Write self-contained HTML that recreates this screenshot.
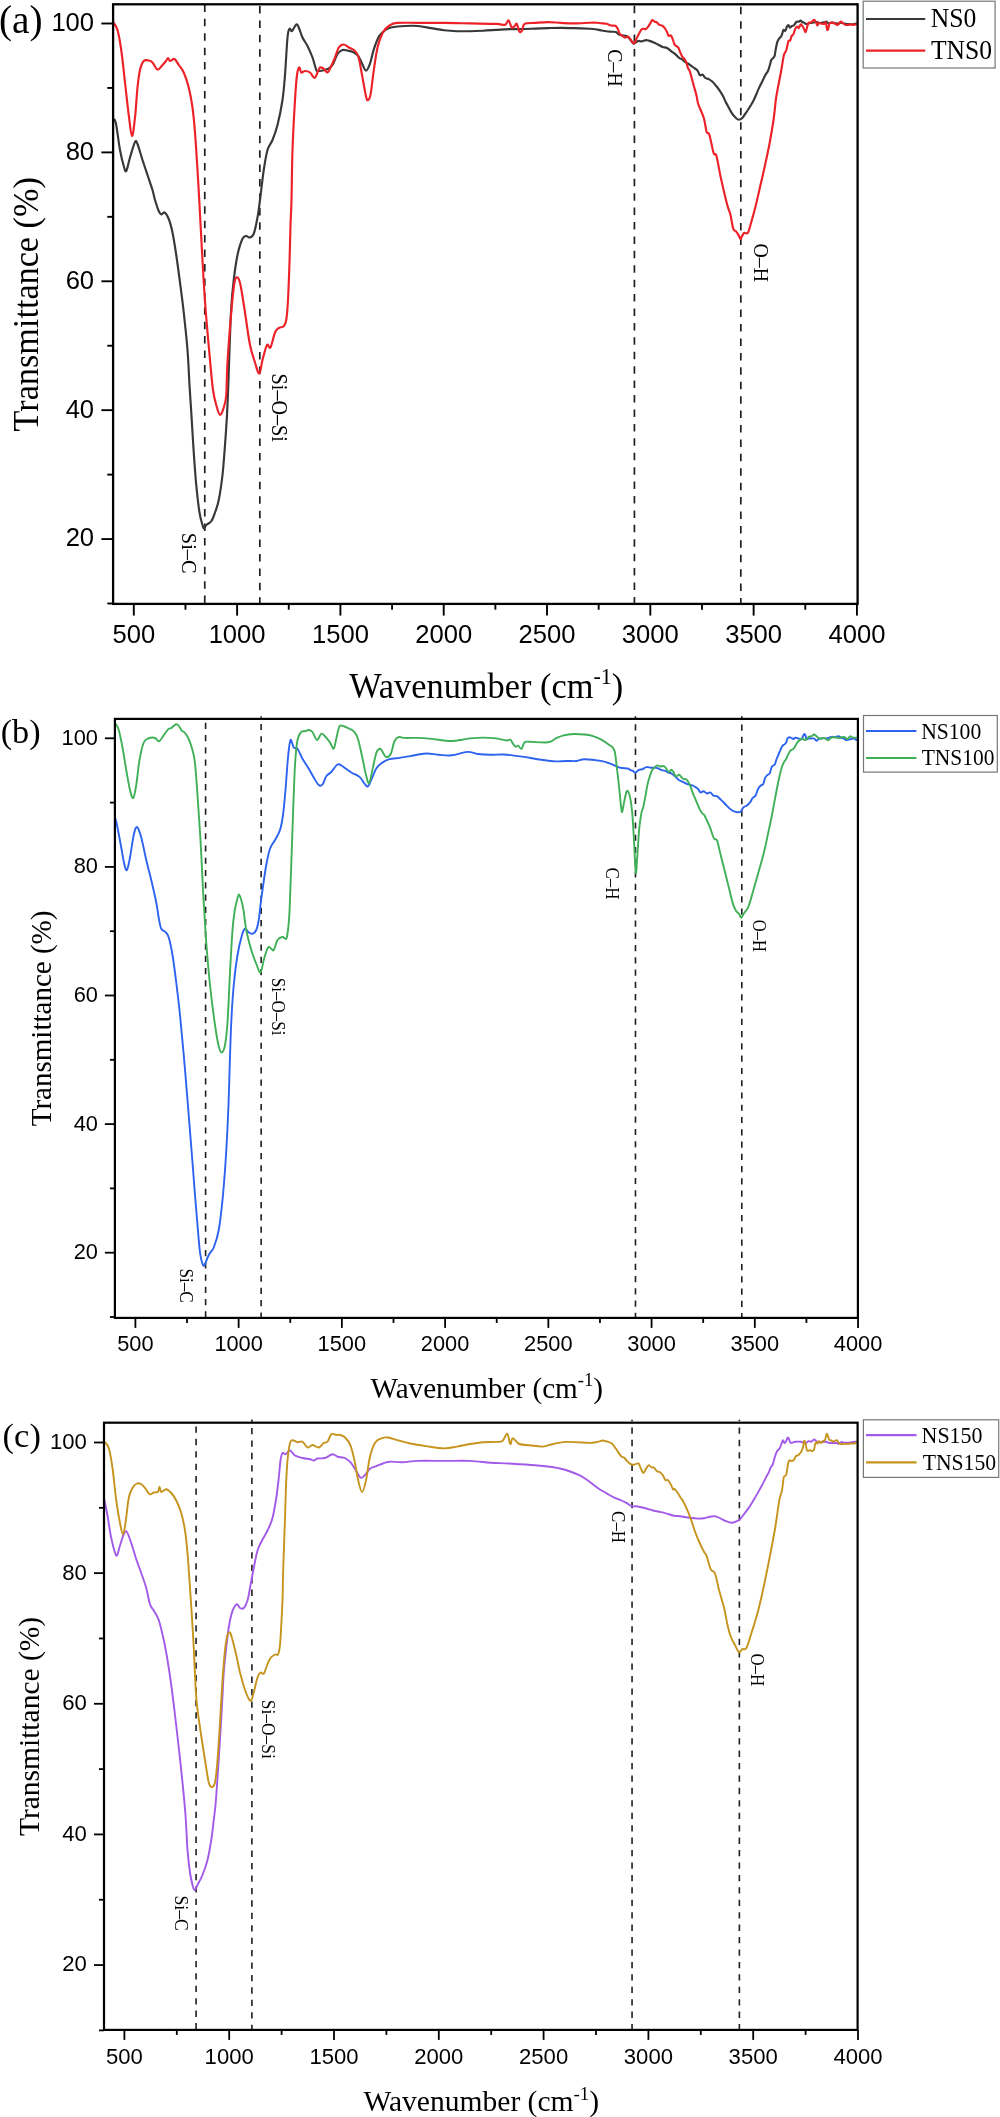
<!DOCTYPE html><html><head><meta charset="utf-8"><title>FTIR spectra</title><style>html,body{margin:0;padding:0;background:#fff;overflow:hidden;}svg{display:block;will-change:transform;filter:blur(0.3px);}</style></head><body>
<svg width="1000" height="2117" viewBox="0 0 1000 2117">
<rect width="1000" height="2117" fill="#fff"/>
<g><line x1="204.77" y1="4.30" x2="204.77" y2="603.90" stroke="#1e1e1e" stroke-width="1.70" stroke-dasharray="7.50 6.92" stroke-dashoffset="14.32"/><line x1="259.83" y1="4.30" x2="259.83" y2="603.90" stroke="#1e1e1e" stroke-width="1.70" stroke-dasharray="7.50 6.92" stroke-dashoffset="12.72"/><line x1="634.42" y1="4.30" x2="634.42" y2="603.90" stroke="#1e1e1e" stroke-width="1.70" stroke-dasharray="7.50 6.92" stroke-dashoffset="13.02"/><line x1="740.82" y1="4.30" x2="740.82" y2="603.90" stroke="#1e1e1e" stroke-width="1.70" stroke-dasharray="7.50 6.92" stroke-dashoffset="11.92"/><path d="M114.50 119.50C114.79 120.42 115.33 119.92 116.25 125.00C117.17 130.08 118.75 143.17 120.00 150.00C121.25 156.83 122.71 162.50 123.75 166.00C124.79 169.50 125.21 172.42 126.25 171.00C127.29 169.58 128.54 162.33 130.00 157.50C131.46 152.67 133.75 144.25 135.00 142.00C136.25 139.75 136.25 141.00 137.50 144.00C138.75 147.00 140.83 154.83 142.50 160.00C144.17 165.17 145.83 170.00 147.50 175.00C149.17 180.00 151.25 185.83 152.50 190.00C153.75 194.17 153.96 196.50 155.00 200.00C156.04 203.50 157.71 208.58 158.75 211.00C159.79 213.42 160.29 214.25 161.25 214.50C162.21 214.75 163.25 211.75 164.50 212.50C165.75 213.25 167.42 215.67 168.75 219.00C170.08 222.33 171.25 226.50 172.50 232.50C173.75 238.50 175.00 246.67 176.25 255.00C177.50 263.33 178.75 272.92 180.00 282.50C181.25 292.08 182.50 301.25 183.75 312.50C185.00 323.75 186.54 337.92 187.50 350.00C188.46 362.08 188.88 374.67 189.50 385.00C190.12 395.33 190.54 400.75 191.25 412.00C191.96 423.25 192.92 440.33 193.75 452.50C194.58 464.67 195.29 475.00 196.25 485.00C197.21 495.00 198.46 505.83 199.50 512.50C200.54 519.17 201.75 522.29 202.50 525.00C203.25 527.71 203.38 528.75 204.00 528.75C204.62 528.75 205.04 526.25 206.25 525.00C207.46 523.75 209.79 523.33 211.25 521.25C212.71 519.17 213.75 516.04 215.00 512.50C216.25 508.96 217.50 506.25 218.75 500.00C220.00 493.75 221.46 484.17 222.50 475.00C223.54 465.83 224.25 455.00 225.00 445.00C225.75 435.00 226.45 425.00 227.00 415.00C227.55 405.00 227.88 395.83 228.30 385.00C228.72 374.17 229.01 362.92 229.50 350.00C229.99 337.08 230.54 319.17 231.25 307.50C231.96 295.83 232.71 288.75 233.75 280.00C234.79 271.25 236.04 261.88 237.50 255.00C238.96 248.12 241.04 241.92 242.50 238.75C243.96 235.58 245.00 236.21 246.25 236.00C247.50 235.79 248.75 237.88 250.00 237.50C251.25 237.12 252.50 237.08 253.75 233.75C255.00 230.42 256.46 223.12 257.50 217.50C258.54 211.88 258.96 207.92 260.00 200.00C261.04 192.08 262.50 178.33 263.75 170.00C265.00 161.67 266.04 155.00 267.50 150.00C268.96 145.00 270.83 144.17 272.50 140.00C274.17 135.83 275.83 131.67 277.50 125.00C279.17 118.33 281.25 108.33 282.50 100.00C283.75 91.67 284.17 85.42 285.00 75.00C285.83 64.58 286.75 45.21 287.50 37.50C288.25 29.79 288.75 29.83 289.50 28.75C290.25 27.67 290.88 31.71 292.00 31.00C293.12 30.29 295.12 25.08 296.25 24.50C297.38 23.92 297.71 25.33 298.75 27.50C299.79 29.67 301.04 34.42 302.50 37.50C303.96 40.58 305.83 42.67 307.50 46.00C309.17 49.33 311.17 53.92 312.50 57.50C313.83 61.08 314.75 65.25 315.50 67.50C316.25 69.75 315.83 70.50 317.00 71.00C318.17 71.50 320.75 70.83 322.50 70.50C324.25 70.17 325.83 69.92 327.50 69.00C329.17 68.08 330.83 67.50 332.50 65.00C334.17 62.50 335.83 56.50 337.50 54.00C339.17 51.50 340.78 50.55 342.50 50.00C344.22 49.45 346.05 50.37 347.80 50.70C349.55 51.03 351.27 51.12 353.00 52.00C354.73 52.88 356.68 54.05 358.20 56.00C359.72 57.95 360.80 61.25 362.10 63.70C363.40 66.15 364.68 70.70 366.00 70.70C367.32 70.70 368.70 67.25 370.00 63.70C371.30 60.15 372.30 53.95 373.80 49.40C375.30 44.85 377.05 39.65 379.00 36.40C380.95 33.15 383.33 31.42 385.50 29.90C387.67 28.38 388.75 27.95 392.00 27.30C395.25 26.65 400.67 26.22 405.00 26.00C409.33 25.78 413.67 25.65 418.00 26.00C422.33 26.35 426.67 27.40 431.00 28.10C435.33 28.80 439.67 29.68 444.00 30.20C448.33 30.72 452.67 31.03 457.00 31.20C461.33 31.37 465.67 31.28 470.00 31.20C474.33 31.12 478.67 30.92 483.00 30.70C487.33 30.48 491.67 30.17 496.00 29.90C500.33 29.63 504.67 29.23 509.00 29.10C513.33 28.97 517.67 29.18 522.00 29.10C526.33 29.02 530.67 28.77 535.00 28.60C539.33 28.43 543.67 28.23 548.00 28.10C552.33 27.97 556.67 27.80 561.00 27.80C565.33 27.80 569.17 27.93 574.00 28.10C578.83 28.27 586.42 28.60 590.00 28.80C593.58 29.00 593.67 29.03 595.50 29.30C597.33 29.57 599.17 30.07 601.00 30.40C602.83 30.73 604.67 31.08 606.50 31.30C608.33 31.52 610.43 31.57 612.00 31.70C613.57 31.83 614.80 31.67 615.90 32.10C617.00 32.53 617.60 33.75 618.60 34.30C619.60 34.85 620.62 35.13 621.90 35.40C623.18 35.67 625.02 35.35 626.30 35.90C627.58 36.45 628.40 37.42 629.60 38.70C630.80 39.98 632.40 43.05 633.50 43.60C634.60 44.15 635.28 42.45 636.20 42.00C637.12 41.55 638.08 41.00 639.00 40.90C639.92 40.80 640.52 41.53 641.70 41.40C642.88 41.27 644.82 40.18 646.10 40.10C647.38 40.02 648.12 40.50 649.40 40.90C650.68 41.30 652.33 41.87 653.80 42.50C655.27 43.13 656.73 43.97 658.20 44.70C659.67 45.43 661.13 46.35 662.60 46.90C664.07 47.45 665.53 47.27 667.00 48.00C668.47 48.73 669.93 50.20 671.40 51.30C672.87 52.40 674.52 53.50 675.80 54.60C677.08 55.70 678.00 57.07 679.10 57.90C680.20 58.73 681.30 58.87 682.40 59.60C683.50 60.33 684.43 61.43 685.70 62.30C686.97 63.17 688.55 63.83 690.00 64.80C691.45 65.77 693.12 67.10 694.40 68.10C695.68 69.10 696.78 69.62 697.70 70.80C698.62 71.98 699.07 74.55 699.90 75.20C700.73 75.85 701.78 74.23 702.70 74.70C703.62 75.17 704.40 77.27 705.40 78.00C706.40 78.73 707.60 78.55 708.70 79.10C709.80 79.65 710.72 80.12 712.00 81.30C713.28 82.48 715.12 84.65 716.40 86.20C717.68 87.75 718.60 88.95 719.70 90.60C720.80 92.25 722.03 94.28 723.00 96.10C723.97 97.92 724.73 99.95 725.50 101.50C726.27 103.05 726.55 103.47 727.60 105.40C728.65 107.33 730.40 111.00 731.80 113.10C733.20 115.20 734.83 116.90 736.00 118.00C737.17 119.10 737.75 119.70 738.80 119.70C739.85 119.70 740.90 119.45 742.30 118.00C743.70 116.55 745.75 113.17 747.20 111.00C748.65 108.83 749.90 106.83 751.00 105.00C752.10 103.17 752.97 101.67 753.80 100.00C754.63 98.33 755.17 96.93 756.00 95.00C756.83 93.07 757.70 90.78 758.80 88.40C759.90 86.02 761.42 83.08 762.60 80.70C763.78 78.32 764.98 75.75 765.90 74.10C766.82 72.45 767.45 72.27 768.10 70.80C768.75 69.33 769.25 67.13 769.80 65.30C770.35 63.47 770.77 61.08 771.40 59.80C772.03 58.52 773.05 58.33 773.60 57.60C774.15 56.87 774.37 56.67 774.70 55.40C775.03 54.13 775.18 52.17 775.60 50.00C776.02 47.83 776.63 44.27 777.20 42.40C777.77 40.53 778.32 39.85 779.00 38.80C779.68 37.75 780.70 37.15 781.30 36.10C781.90 35.05 782.23 33.55 782.60 32.50C782.97 31.45 783.05 30.10 783.50 29.80C783.95 29.50 784.70 31.30 785.30 30.70C785.90 30.10 786.57 27.10 787.10 26.20C787.63 25.30 788.05 25.07 788.50 25.30C788.95 25.53 789.28 27.45 789.80 27.60C790.32 27.75 790.92 26.58 791.60 26.20C792.28 25.82 793.30 25.75 793.90 25.30C794.50 24.85 794.75 24.10 795.20 23.50C795.65 22.90 796.00 22.00 796.60 21.70C797.20 21.40 798.13 21.88 798.80 21.70C799.47 21.52 800.00 20.52 800.60 20.60C801.20 20.68 801.80 21.87 802.40 22.20C803.00 22.53 803.60 22.30 804.20 22.60C804.80 22.90 805.25 23.85 806.00 24.00C806.75 24.15 807.65 23.73 808.70 23.50C809.75 23.27 811.25 22.82 812.30 22.60C813.35 22.38 814.10 22.27 815.00 22.20C815.90 22.13 816.80 22.05 817.70 22.20C818.60 22.35 819.35 23.10 820.40 23.10C821.45 23.10 822.95 22.43 824.00 22.20C825.05 21.97 825.95 21.48 826.70 21.70C827.45 21.92 827.60 23.35 828.50 23.50C829.40 23.65 831.05 22.67 832.10 22.60C833.15 22.53 833.75 22.95 834.80 23.10C835.85 23.25 837.35 23.58 838.40 23.50C839.45 23.42 840.20 22.60 841.10 22.60C842.00 22.60 842.90 23.27 843.80 23.50C844.70 23.73 845.60 23.92 846.50 24.00C847.40 24.08 848.30 23.93 849.20 24.00C850.10 24.07 851.00 24.40 851.90 24.40C852.80 24.40 853.85 24.15 854.60 24.00C855.35 23.85 856.10 23.58 856.40 23.50" fill="none" stroke="#383838" stroke-width="2.15" stroke-linejoin="round" stroke-linecap="round"/><path d="M113.75 23.00C114.38 24.17 116.25 25.50 117.50 30.00C118.75 34.50 120.00 41.25 121.25 50.00C122.50 58.75 123.75 71.67 125.00 82.50C126.25 93.33 127.58 106.08 128.75 115.00C129.92 123.92 130.96 135.58 132.00 136.00C133.04 136.42 134.08 125.58 135.00 117.50C135.92 109.42 136.67 95.42 137.50 87.50C138.33 79.58 138.96 74.42 140.00 70.00C141.04 65.58 142.29 62.58 143.75 61.00C145.21 59.42 147.29 60.25 148.75 60.50C150.21 60.75 151.04 61.00 152.50 62.50C153.96 64.00 155.83 69.08 157.50 69.50C159.17 69.92 161.08 66.42 162.50 65.00C163.92 63.58 165.08 62.17 166.00 61.00C166.92 59.83 167.33 58.00 168.00 58.00C168.67 58.00 168.92 60.83 170.00 61.00C171.08 61.17 173.04 58.33 174.50 59.00C175.96 59.67 177.21 62.75 178.75 65.00C180.29 67.25 182.08 68.75 183.75 72.50C185.42 76.25 187.29 81.67 188.75 87.50C190.21 93.33 191.46 100.00 192.50 107.50C193.54 115.00 194.17 122.08 195.00 132.50C195.83 142.92 196.79 158.75 197.50 170.00C198.21 181.25 198.62 188.75 199.25 200.00C199.88 211.25 200.50 223.75 201.25 237.50C202.00 251.25 202.92 269.17 203.75 282.50C204.58 295.83 205.21 304.58 206.25 317.50C207.29 330.42 208.88 347.92 210.00 360.00C211.12 372.08 211.96 382.50 213.00 390.00C214.04 397.50 215.08 400.83 216.25 405.00C217.42 409.17 218.75 414.58 220.00 415.00C221.25 415.42 222.71 410.83 223.75 407.50C224.79 404.17 225.62 402.50 226.25 395.00C226.88 387.50 226.67 376.25 227.50 362.50C228.33 348.75 230.08 325.83 231.25 312.50C232.42 299.17 233.46 288.33 234.50 282.50C235.54 276.67 236.50 277.08 237.50 277.50C238.50 277.92 239.25 279.17 240.50 285.00C241.75 290.83 243.42 302.50 245.00 312.50C246.58 322.50 248.33 336.67 250.00 345.00C251.67 353.33 253.46 357.71 255.00 362.50C256.54 367.29 258.00 374.17 259.25 373.75C260.50 373.33 261.21 364.79 262.50 360.00C263.79 355.21 265.67 347.08 267.00 345.00C268.33 342.92 269.17 349.58 270.50 347.50C271.83 345.42 273.62 335.75 275.00 332.50C276.38 329.25 277.29 329.04 278.75 328.00C280.21 326.96 282.50 327.58 283.75 326.25C285.00 324.92 285.54 324.38 286.25 320.00C286.96 315.62 287.46 309.58 288.00 300.00C288.54 290.42 289.08 275.00 289.50 262.50C289.92 250.00 290.17 235.42 290.50 225.00C290.83 214.58 291.17 212.50 291.50 200.00C291.83 187.50 291.92 166.67 292.50 150.00C293.08 133.33 294.25 112.50 295.00 100.00C295.75 87.50 296.29 80.42 297.00 75.00C297.71 69.58 298.54 67.92 299.25 67.50C299.96 67.08 300.29 71.92 301.25 72.50C302.21 73.08 303.54 71.00 305.00 71.00C306.46 71.00 308.42 71.33 310.00 72.50C311.58 73.67 313.25 78.00 314.50 78.00C315.75 78.00 316.58 74.25 317.50 72.50C318.42 70.75 318.96 68.12 320.00 67.50C321.04 66.88 322.50 67.92 323.75 68.75C325.00 69.58 326.25 72.96 327.50 72.50C328.75 72.04 330.00 68.50 331.25 66.00C332.50 63.50 333.75 60.58 335.00 57.50C336.25 54.42 337.29 49.67 338.75 47.50C340.21 45.33 342.08 44.50 343.75 44.50C345.42 44.50 347.08 46.58 348.75 47.50C350.42 48.42 352.18 48.58 353.75 50.00C355.32 51.42 356.81 51.77 358.20 56.00C359.59 60.23 360.80 68.70 362.10 75.40C363.40 82.10 365.00 92.08 366.00 96.20C367.00 100.32 367.32 100.53 368.10 100.10C368.88 99.67 369.75 98.58 370.70 93.60C371.65 88.62 372.63 78.00 373.80 70.20C374.97 62.40 376.18 53.08 377.70 46.80C379.22 40.52 380.95 36.05 382.90 32.50C384.85 28.95 387.02 27.10 389.40 25.50C391.78 23.90 392.43 23.33 397.20 22.90C401.97 22.47 410.20 22.90 418.00 22.90C425.80 22.90 435.33 22.82 444.00 22.90C452.67 22.98 461.33 23.23 470.00 23.40C478.67 23.57 490.15 23.68 496.00 23.90C501.85 24.12 503.02 25.30 505.10 24.70C507.18 24.10 507.42 19.87 508.50 20.30C509.58 20.73 510.57 26.35 511.60 27.30C512.63 28.25 513.83 26.57 514.70 26.00C515.57 25.43 516.02 22.95 516.80 23.90C517.58 24.85 518.53 30.57 519.40 31.70C520.27 32.83 521.13 32.00 522.00 30.70C522.87 29.40 522.43 25.20 524.60 23.90C526.77 22.60 531.10 23.20 535.00 22.90C538.90 22.60 543.67 22.10 548.00 22.10C552.33 22.10 556.67 22.68 561.00 22.90C565.33 23.12 569.17 23.43 574.00 23.40C578.83 23.37 586.23 22.82 590.00 22.70C593.77 22.58 594.77 22.60 596.60 22.70C598.43 22.80 599.35 23.12 601.00 23.30C602.65 23.48 604.85 23.43 606.50 23.80C608.15 24.17 609.43 25.17 610.90 25.50C612.37 25.83 614.20 25.35 615.30 25.80C616.40 26.25 616.77 26.88 617.50 28.20C618.23 29.52 618.97 32.50 619.70 33.70C620.43 34.90 620.98 34.75 621.90 35.40C622.82 36.05 624.18 37.42 625.20 37.60C626.22 37.78 627.08 36.13 628.00 36.50C628.92 36.87 629.70 38.65 630.70 39.80C631.70 40.95 633.08 43.50 634.00 43.40C634.92 43.30 635.37 40.82 636.20 39.20C637.03 37.58 638.08 35.35 639.00 33.70C639.92 32.05 640.78 30.12 641.70 29.30C642.62 28.48 643.85 28.80 644.50 28.80C645.15 28.80 645.05 29.58 645.60 29.30C646.15 29.02 647.07 28.02 647.80 27.10C648.53 26.18 649.27 24.98 650.00 23.80C650.73 22.62 651.47 20.37 652.20 20.00C652.93 19.63 653.67 21.23 654.40 21.60C655.13 21.97 655.78 21.65 656.60 22.20C657.42 22.75 658.38 24.35 659.30 24.90C660.22 25.45 661.18 24.95 662.10 25.50C663.02 26.05 663.98 27.10 664.80 28.20C665.62 29.30 666.35 30.82 667.00 32.10C667.65 33.38 668.05 35.35 668.70 35.90C669.35 36.45 670.27 34.93 670.90 35.40C671.53 35.87 671.87 37.15 672.50 38.70C673.13 40.25 673.97 43.42 674.70 44.70C675.43 45.98 676.25 45.85 676.90 46.40C677.55 46.95 678.05 47.00 678.60 48.00C679.15 49.00 679.57 50.93 680.20 52.40C680.83 53.87 681.67 55.70 682.40 56.80C683.13 57.90 683.95 58.08 684.60 59.00C685.25 59.92 685.75 60.83 686.30 62.30C686.85 63.77 687.28 66.20 687.90 67.80C688.52 69.40 689.10 69.20 690.00 71.90C690.90 74.60 692.20 79.97 693.30 84.00C694.40 88.03 695.78 92.77 696.60 96.10C697.42 99.43 697.00 100.35 698.20 104.00C699.40 107.65 702.40 113.33 703.80 118.00C705.20 122.67 705.67 129.20 706.60 132.00C707.53 134.80 708.23 131.30 709.40 134.80C710.57 138.30 712.43 149.50 713.60 153.00C714.77 156.50 715.23 151.83 716.40 155.80C717.57 159.77 719.20 170.27 720.60 176.80C722.00 183.33 723.63 190.10 724.80 195.00C725.97 199.90 726.67 202.93 727.60 206.20C728.53 209.47 729.47 210.87 730.40 214.60C731.33 218.33 732.27 225.80 733.20 228.60C734.13 231.40 735.07 230.23 736.00 231.40C736.93 232.57 738.05 234.32 738.80 235.60C739.55 236.88 739.92 239.10 740.50 239.10C741.08 239.10 741.65 236.65 742.30 235.60C742.95 234.55 743.47 233.27 744.40 232.80C745.33 232.33 746.73 234.67 747.90 232.80C749.07 230.93 750.12 226.03 751.40 221.60C752.68 217.17 754.20 211.80 755.60 206.20C757.00 200.60 758.40 194.07 759.80 188.00C761.20 181.93 762.37 177.27 764.00 169.80C765.63 162.33 767.97 151.83 769.60 143.20C771.23 134.57 772.77 125.20 773.80 118.00C774.83 110.80 775.10 105.12 775.80 100.00C776.50 94.88 777.17 91.80 778.00 87.30C778.83 82.80 779.97 77.58 780.80 73.00C781.63 68.42 782.45 62.92 783.00 59.80C783.55 56.68 783.57 55.85 784.10 54.30C784.63 52.75 785.63 52.05 786.20 50.50C786.77 48.95 787.12 46.58 787.50 45.00C787.88 43.42 788.05 41.78 788.50 41.00C788.95 40.22 789.68 41.12 790.20 40.30C790.72 39.48 791.07 37.10 791.60 36.10C792.13 35.10 792.80 35.50 793.40 34.30C794.00 33.10 794.60 30.17 795.20 28.90C795.80 27.63 796.40 26.85 797.00 26.70C797.60 26.55 798.20 28.38 798.80 28.00C799.40 27.62 800.00 24.70 800.60 24.40C801.20 24.10 801.80 25.37 802.40 26.20C803.00 27.03 803.67 28.42 804.20 29.40C804.73 30.38 805.15 32.33 805.60 32.10C806.05 31.87 806.45 29.50 806.90 28.00C807.35 26.50 807.70 24.00 808.30 23.10C808.90 22.20 809.83 22.90 810.50 22.60C811.17 22.30 811.70 21.75 812.30 21.30C812.90 20.85 813.57 19.90 814.10 19.90C814.63 19.90 814.97 20.40 815.50 21.30C816.03 22.20 816.72 25.00 817.30 25.30C817.88 25.60 818.33 23.40 819.00 23.10C819.67 22.80 820.47 23.35 821.30 23.50C822.13 23.65 823.25 24.15 824.00 24.00C824.75 23.85 825.27 21.63 825.80 22.60C826.33 23.57 826.75 28.90 827.20 29.80C827.65 30.70 828.13 29.05 828.50 28.00C828.87 26.95 828.80 24.40 829.40 23.50C830.00 22.60 831.20 22.60 832.10 22.60C833.00 22.60 833.90 23.12 834.80 23.50C835.70 23.88 836.52 25.20 837.50 24.90C838.48 24.60 839.80 22.00 840.70 21.70C841.60 21.40 842.08 22.57 842.90 23.10C843.72 23.63 844.70 24.60 845.60 24.90C846.50 25.20 847.40 24.98 848.30 24.90C849.20 24.82 850.10 24.40 851.00 24.40C851.90 24.40 852.80 24.97 853.70 24.90C854.60 24.83 855.95 24.15 856.40 24.00" fill="none" stroke="#ec2228" stroke-width="2.15" stroke-linejoin="round" stroke-linecap="round"/><rect x="113.10" y="4.30" width="744.50" height="599.60" fill="none" stroke="#000" stroke-width="2.30"/><line x1="107.30" y1="603.50" x2="113.10" y2="603.50" stroke="#000" stroke-width="1.90"/><line x1="101.40" y1="539.06" x2="113.10" y2="539.06" stroke="#000" stroke-width="1.90"/><text x="94.10" y="546.44" font-family='"Liberation Sans", sans-serif' font-size="25.60" text-anchor="end" fill="#000">20</text><line x1="107.30" y1="474.61" x2="113.10" y2="474.61" stroke="#000" stroke-width="1.90"/><line x1="101.40" y1="410.17" x2="113.10" y2="410.17" stroke="#000" stroke-width="1.90"/><text x="94.10" y="417.55" font-family='"Liberation Sans", sans-serif' font-size="25.60" text-anchor="end" fill="#000">40</text><line x1="107.30" y1="345.72" x2="113.10" y2="345.72" stroke="#000" stroke-width="1.90"/><line x1="101.40" y1="281.28" x2="113.10" y2="281.28" stroke="#000" stroke-width="1.90"/><text x="94.10" y="288.66" font-family='"Liberation Sans", sans-serif' font-size="25.60" text-anchor="end" fill="#000">60</text><line x1="107.30" y1="216.83" x2="113.10" y2="216.83" stroke="#000" stroke-width="1.90"/><line x1="101.40" y1="152.39" x2="113.10" y2="152.39" stroke="#000" stroke-width="1.90"/><text x="94.10" y="159.77" font-family='"Liberation Sans", sans-serif' font-size="25.60" text-anchor="end" fill="#000">80</text><line x1="107.30" y1="87.94" x2="113.10" y2="87.94" stroke="#000" stroke-width="1.90"/><line x1="101.40" y1="23.50" x2="113.10" y2="23.50" stroke="#000" stroke-width="1.90"/><text x="94.10" y="30.88" font-family='"Liberation Sans", sans-serif' font-size="25.60" text-anchor="end" fill="#000">100</text><line x1="133.80" y1="603.90" x2="133.80" y2="615.60" stroke="#000" stroke-width="1.90"/><text x="133.80" y="643.40" font-family='"Liberation Sans", sans-serif' font-size="25.60" text-anchor="middle" fill="#000">500</text><line x1="185.45" y1="603.90" x2="185.45" y2="609.70" stroke="#000" stroke-width="1.90"/><line x1="237.11" y1="603.90" x2="237.11" y2="615.60" stroke="#000" stroke-width="1.90"/><text x="237.11" y="643.40" font-family='"Liberation Sans", sans-serif' font-size="25.60" text-anchor="middle" fill="#000">1000</text><line x1="288.76" y1="603.90" x2="288.76" y2="609.70" stroke="#000" stroke-width="1.90"/><line x1="340.41" y1="603.90" x2="340.41" y2="615.60" stroke="#000" stroke-width="1.90"/><text x="340.41" y="643.40" font-family='"Liberation Sans", sans-serif' font-size="25.60" text-anchor="middle" fill="#000">1500</text><line x1="392.06" y1="603.90" x2="392.06" y2="609.70" stroke="#000" stroke-width="1.90"/><line x1="443.71" y1="603.90" x2="443.71" y2="615.60" stroke="#000" stroke-width="1.90"/><text x="443.71" y="643.40" font-family='"Liberation Sans", sans-serif' font-size="25.60" text-anchor="middle" fill="#000">2000</text><line x1="495.37" y1="603.90" x2="495.37" y2="609.70" stroke="#000" stroke-width="1.90"/><line x1="547.02" y1="603.90" x2="547.02" y2="615.60" stroke="#000" stroke-width="1.90"/><text x="547.02" y="643.40" font-family='"Liberation Sans", sans-serif' font-size="25.60" text-anchor="middle" fill="#000">2500</text><line x1="598.67" y1="603.90" x2="598.67" y2="609.70" stroke="#000" stroke-width="1.90"/><line x1="650.33" y1="603.90" x2="650.33" y2="615.60" stroke="#000" stroke-width="1.90"/><text x="650.33" y="643.40" font-family='"Liberation Sans", sans-serif' font-size="25.60" text-anchor="middle" fill="#000">3000</text><line x1="701.98" y1="603.90" x2="701.98" y2="609.70" stroke="#000" stroke-width="1.90"/><line x1="753.63" y1="603.90" x2="753.63" y2="615.60" stroke="#000" stroke-width="1.90"/><text x="753.63" y="643.40" font-family='"Liberation Sans", sans-serif' font-size="25.60" text-anchor="middle" fill="#000">3500</text><line x1="805.28" y1="603.90" x2="805.28" y2="609.70" stroke="#000" stroke-width="1.90"/><line x1="856.93" y1="603.90" x2="856.93" y2="615.60" stroke="#000" stroke-width="1.90"/><text x="856.93" y="643.40" font-family='"Liberation Sans", sans-serif' font-size="25.60" text-anchor="middle" fill="#000">4000</text><text transform="matrix(0.34351 0.00000 0.00000 0.35224 349.200 697.896)" font-family='"Liberation Serif", serif' font-size="100" fill="#000">Wavenumber (cm<tspan font-size="64" dy="-39">-1</tspan><tspan dy="39">)</tspan></text><text transform="matrix(0.00000 -0.34227 0.35385 0.00000 38.000 431.435)" font-family='"Liberation Serif", serif' font-size="100" fill="#000">Transmittance (%)</text><text transform="matrix(0.00000 0.20346 -0.21642 0.00000 181.683 532.826)" font-family='"Liberation Serif", serif' font-size="100" fill="#000">Si–C</text><text transform="matrix(0.00000 0.20152 -0.22239 0.00000 272.445 373.589)" font-family='"Liberation Serif", serif' font-size="100" fill="#000">Si–O–Si</text><text transform="matrix(0.00000 0.19835 -0.21045 0.00000 608.421 49.307)" font-family='"Liberation Serif", serif' font-size="100" fill="#000">C–H</text><text transform="matrix(0.00000 0.19840 -0.21194 0.00000 754.124 243.406)" font-family='"Liberation Serif", serif' font-size="100" fill="#000">O–H</text><rect x="863.20" y="1.20" width="131.90" height="66.80" fill="#fff" stroke="#777" stroke-width="1.2"/><line x1="866.00" y1="19.00" x2="925.20" y2="19.00" stroke="#383838" stroke-width="2.2"/><text transform="matrix(0.25643 0.00000 0.00000 0.26866 930.631 27.363)" font-family='"Liberation Serif", serif' font-size="100" fill="#000">NS0</text><line x1="866.00" y1="50.70" x2="925.20" y2="50.70" stroke="#ec2228" stroke-width="2.2"/><text transform="matrix(0.25579 0.00000 0.00000 0.26343 930.888 59.223)" font-family='"Liberation Serif", serif' font-size="100" fill="#000">TNS0</text><text transform="matrix(0.39320 0.00000 0.00000 0.39444 -1.073 32.717)" font-family='"Liberation Serif", serif' font-size="100" fill="#000">(a)</text></g>
<g><line x1="205.60" y1="718.90" x2="205.60" y2="1317.90" stroke="#1e1e1e" stroke-width="1.60" stroke-dasharray="6.20 6.06" stroke-dashoffset="8.36"/><line x1="261.14" y1="716.20" x2="261.14" y2="1317.90" stroke="#1e1e1e" stroke-width="1.60" stroke-dasharray="6.20 6.06" stroke-dashoffset="4.56"/><line x1="635.47" y1="716.20" x2="635.47" y2="1317.90" stroke="#1e1e1e" stroke-width="1.60" stroke-dasharray="6.20 6.06" stroke-dashoffset="4.16"/><line x1="741.80" y1="716.20" x2="741.80" y2="1317.90" stroke="#1e1e1e" stroke-width="1.60" stroke-dasharray="6.20 6.06" stroke-dashoffset="3.86"/><path d="M115.50 818.75C115.83 820.21 116.54 822.71 117.50 827.50C118.46 832.29 120.08 841.25 121.25 847.50C122.42 853.75 123.54 861.25 124.50 865.00C125.46 868.75 126.08 871.25 127.00 870.00C127.92 868.75 128.88 863.33 130.00 857.50C131.12 851.67 132.58 840.08 133.75 835.00C134.92 829.92 135.75 826.58 137.00 827.00C138.25 827.42 139.71 832.00 141.25 837.50C142.79 843.00 144.58 852.92 146.25 860.00C147.92 867.08 149.58 872.92 151.25 880.00C152.92 887.08 155.00 896.17 156.25 902.50C157.50 908.83 157.92 913.62 158.75 918.00C159.58 922.38 160.12 926.42 161.25 928.75C162.38 931.08 164.25 930.54 165.50 932.00C166.75 933.46 167.58 933.67 168.75 937.50C169.92 941.33 171.25 947.50 172.50 955.00C173.75 962.50 175.00 972.50 176.25 982.50C177.50 992.50 178.75 1002.92 180.00 1015.00C181.25 1027.08 182.50 1040.83 183.75 1055.00C185.00 1069.17 186.54 1088.33 187.50 1100.00C188.46 1111.67 188.67 1114.58 189.50 1125.00C190.33 1135.42 191.58 1150.83 192.50 1162.50C193.42 1174.17 194.17 1184.58 195.00 1195.00C195.83 1205.42 196.67 1215.42 197.50 1225.00C198.33 1234.58 199.17 1246.04 200.00 1252.50C200.83 1258.96 201.75 1261.67 202.50 1263.75C203.25 1265.83 203.46 1266.46 204.50 1265.00C205.54 1263.54 207.21 1257.92 208.75 1255.00C210.29 1252.08 212.08 1251.67 213.75 1247.50C215.42 1243.33 217.29 1237.92 218.75 1230.00C220.21 1222.08 221.46 1210.00 222.50 1200.00C223.54 1190.00 224.25 1180.42 225.00 1170.00C225.75 1159.58 226.42 1148.33 227.00 1137.50C227.58 1126.67 228.08 1115.83 228.50 1105.00C228.92 1094.17 229.04 1086.25 229.50 1072.50C229.96 1058.75 230.54 1037.08 231.25 1022.50C231.96 1007.92 232.71 996.25 233.75 985.00C234.79 973.75 236.12 963.33 237.50 955.00C238.88 946.67 240.75 939.38 242.00 935.00C243.25 930.62 243.88 929.17 245.00 928.75C246.12 928.33 247.50 931.67 248.75 932.50C250.00 933.33 251.25 934.17 252.50 933.75C253.75 933.33 255.21 932.29 256.25 930.00C257.29 927.71 258.04 924.17 258.75 920.00C259.46 915.83 259.88 910.00 260.50 905.00C261.12 900.00 261.54 896.67 262.50 890.00C263.46 883.33 265.00 871.88 266.25 865.00C267.50 858.12 268.54 852.92 270.00 848.75C271.46 844.58 273.33 843.12 275.00 840.00C276.67 836.88 278.67 834.17 280.00 830.00C281.33 825.83 282.08 821.67 283.00 815.00C283.92 808.33 284.67 799.58 285.50 790.00C286.33 780.42 287.17 765.83 288.00 757.50C288.83 749.17 289.54 741.67 290.50 740.00C291.46 738.33 292.58 746.04 293.75 747.50C294.92 748.96 296.04 746.88 297.50 748.75C298.96 750.62 300.62 755.42 302.50 758.75C304.38 762.08 306.88 765.62 308.75 768.75C310.62 771.88 312.08 774.79 313.75 777.50C315.42 780.21 317.29 783.83 318.75 785.00C320.21 786.17 321.25 785.96 322.50 784.50C323.75 783.04 324.79 778.33 326.25 776.25C327.71 774.17 329.38 773.96 331.25 772.00C333.12 770.04 335.62 765.46 337.50 764.50C339.38 763.54 341.22 765.62 342.50 766.25C343.78 766.88 343.67 767.22 345.20 768.30C346.73 769.38 349.32 771.27 351.70 772.70C354.08 774.13 357.33 775.03 359.50 776.90C361.67 778.77 363.32 782.30 364.70 783.90C366.08 785.50 366.72 787.15 367.80 786.50C368.88 785.85 369.77 783.03 371.20 780.00C372.63 776.97 374.67 771.12 376.40 768.30C378.13 765.48 379.43 764.62 381.60 763.10C383.77 761.58 386.37 760.07 389.40 759.20C392.43 758.33 396.33 758.42 399.80 757.90C403.27 757.38 405.87 756.83 410.20 756.10C414.53 755.37 421.03 753.72 425.80 753.50C430.57 753.28 434.47 754.50 438.80 754.80C443.13 755.10 447.03 755.78 451.80 755.30C456.57 754.82 463.07 752.12 467.40 751.90C471.73 751.68 473.90 753.52 477.80 754.00C481.70 754.48 486.47 754.72 490.80 754.80C495.13 754.88 498.60 754.20 503.80 754.50C509.00 754.80 516.37 755.82 522.00 756.60C527.63 757.38 532.40 758.42 537.60 759.20C542.80 759.98 548.43 761.00 553.20 761.30C557.97 761.60 562.30 761.05 566.20 761.00C570.10 760.95 573.57 761.30 576.60 761.00C579.63 760.70 580.37 759.22 584.40 759.20C588.43 759.18 596.27 760.08 600.80 760.90C605.33 761.72 608.45 762.98 611.60 764.10C614.75 765.22 617.00 766.87 619.70 767.60C622.40 768.33 626.08 768.13 627.80 768.50C629.52 768.87 629.17 769.40 630.00 769.80C630.83 770.20 631.88 770.43 632.80 770.90C633.72 771.37 634.50 772.78 635.50 772.60C636.50 772.42 637.70 770.35 638.80 769.80C639.90 769.25 640.82 769.75 642.10 769.30C643.38 768.85 645.03 767.35 646.50 767.10C647.97 766.85 649.62 767.72 650.90 767.80C652.18 767.88 653.10 767.53 654.20 767.60C655.30 767.67 656.40 767.83 657.50 768.20C658.60 768.57 659.52 769.35 660.80 769.80C662.08 770.25 663.92 770.43 665.20 770.90C666.48 771.37 667.40 772.13 668.50 772.60C669.60 773.07 670.70 773.07 671.80 773.70C672.90 774.33 674.00 775.40 675.10 776.40C676.20 777.40 677.12 778.78 678.40 779.70C679.68 780.62 681.33 781.17 682.80 781.90C684.27 782.63 685.73 783.55 687.20 784.10C688.67 784.65 690.13 784.65 691.60 785.20C693.07 785.75 694.90 786.75 696.00 787.40C697.10 788.05 697.47 788.27 698.20 789.10C698.93 789.93 699.48 792.03 700.40 792.40C701.32 792.77 702.60 791.12 703.70 791.30C704.80 791.48 705.90 793.32 707.00 793.50C708.10 793.68 709.20 792.03 710.30 792.40C711.40 792.77 712.50 795.07 713.60 795.70C714.70 796.33 715.62 795.47 716.90 796.20C718.18 796.93 719.83 798.72 721.30 800.10C722.77 801.48 724.23 803.03 725.70 804.50C727.17 805.97 728.82 807.80 730.10 808.90C731.38 810.00 732.12 810.55 733.40 811.10C734.68 811.65 736.60 812.08 737.80 812.20C739.00 812.32 739.83 812.37 740.60 811.80C741.37 811.23 741.80 809.65 742.40 808.80C743.00 807.95 743.50 807.20 744.20 806.70C744.90 806.20 745.60 806.55 746.60 805.80C747.60 805.05 749.20 803.50 750.20 802.20C751.20 800.90 751.70 799.10 752.60 798.00C753.50 796.90 754.70 797.10 755.60 795.60C756.50 794.10 757.20 790.65 758.00 789.00C758.80 787.35 759.55 786.50 760.40 785.70C761.25 784.90 762.30 785.55 763.10 784.20C763.90 782.85 764.45 779.15 765.20 777.60C765.95 776.05 766.85 775.60 767.60 774.90C768.35 774.20 769.00 774.75 769.70 773.40C770.40 772.05 770.95 768.30 771.80 766.80C772.65 765.30 774.00 765.70 774.80 764.40C775.60 763.10 776.00 760.60 776.60 759.00C777.20 757.40 777.85 756.12 778.40 754.80C778.95 753.48 779.27 752.53 779.90 751.10C780.53 749.67 781.45 747.32 782.20 746.20C782.95 745.08 783.73 745.00 784.40 744.40C785.07 743.80 785.68 743.58 786.20 742.60C786.72 741.62 786.97 739.40 787.50 738.50C788.03 737.60 788.72 737.27 789.40 737.20C790.08 737.13 790.93 737.80 791.60 738.10C792.27 738.40 792.80 739.08 793.40 739.00C794.00 738.92 794.60 737.75 795.20 737.60C795.80 737.45 796.40 737.95 797.00 738.10C797.60 738.25 798.20 738.20 798.80 738.50C799.40 738.80 800.00 740.05 800.60 739.90C801.20 739.75 801.80 738.58 802.40 737.60C803.00 736.62 803.67 734.30 804.20 734.00C804.73 733.70 805.22 734.97 805.60 735.80C805.98 736.63 805.98 738.55 806.50 739.00C807.02 739.45 807.88 738.58 808.70 738.50C809.52 738.42 810.50 738.50 811.40 738.50C812.30 738.50 813.27 738.12 814.10 738.50C814.93 738.88 815.65 740.72 816.40 740.80C817.15 740.88 817.78 739.38 818.60 739.00C819.42 738.62 820.40 738.65 821.30 738.50C822.20 738.35 823.10 738.10 824.00 738.10C824.90 738.10 825.80 738.58 826.70 738.50C827.60 738.42 828.50 737.90 829.40 737.60C830.30 737.30 831.20 736.77 832.10 736.70C833.00 736.63 833.75 737.27 834.80 737.20C835.85 737.13 837.35 736.23 838.40 736.30C839.45 736.37 840.20 737.23 841.10 737.60C842.00 737.97 843.05 738.12 843.80 738.50C844.55 738.88 844.85 739.67 845.60 739.90C846.35 740.13 847.40 740.05 848.30 739.90C849.20 739.75 850.10 739.23 851.00 739.00C851.90 738.77 852.80 738.35 853.70 738.50C854.60 738.65 855.95 739.67 856.40 739.90" fill="none" stroke="#2d63ee" stroke-width="1.90" stroke-linejoin="round" stroke-linecap="round"/><path d="M115.50 723.75C116.04 724.79 117.58 726.04 118.75 730.00C119.92 733.96 121.25 740.83 122.50 747.50C123.75 754.17 125.00 762.92 126.25 770.00C127.50 777.08 128.83 785.33 130.00 790.00C131.17 794.67 132.21 798.83 133.25 798.00C134.29 797.17 135.21 791.33 136.25 785.00C137.29 778.67 138.25 767.08 139.50 760.00C140.75 752.92 142.21 746.12 143.75 742.50C145.29 738.88 146.88 739.00 148.75 738.25C150.62 737.50 153.28 737.48 155.00 738.00C156.72 738.52 157.75 741.72 159.10 741.40C160.45 741.08 161.57 738.15 163.10 736.10C164.63 734.05 166.98 730.42 168.30 729.10C169.62 727.78 170.12 728.72 171.00 728.20C171.88 727.68 172.72 726.67 173.60 726.00C174.48 725.33 175.42 724.20 176.30 724.20C177.18 724.20 178.03 724.97 178.90 726.00C179.77 727.03 180.62 729.37 181.50 730.40C182.38 731.43 183.17 731.10 184.20 732.20C185.23 733.30 186.53 734.73 187.70 737.00C188.87 739.27 190.03 741.83 191.20 745.80C192.37 749.77 193.65 752.60 194.70 760.80C195.75 769.00 196.53 781.80 197.50 795.00C198.47 808.20 199.58 824.17 200.50 840.00C201.42 855.83 202.33 877.50 203.00 890.00C203.67 902.50 203.96 906.25 204.50 915.00C205.04 923.75 205.33 930.83 206.25 942.50C207.17 954.17 208.54 971.25 210.00 985.00C211.46 998.75 213.54 1014.79 215.00 1025.00C216.46 1035.21 217.62 1041.67 218.75 1046.25C219.88 1050.83 220.71 1052.71 221.75 1052.50C222.79 1052.29 224.04 1050.00 225.00 1045.00C225.96 1040.00 226.67 1034.58 227.50 1022.50C228.33 1010.42 229.17 987.92 230.00 972.50C230.83 957.08 231.75 940.08 232.50 930.00C233.25 919.92 233.75 917.00 234.50 912.00C235.25 907.00 236.25 902.92 237.00 900.00C237.75 897.08 238.29 894.50 239.00 894.50C239.71 894.50 240.50 897.42 241.25 900.00C242.00 902.58 242.67 905.00 243.50 910.00C244.33 915.00 244.96 923.33 246.25 930.00C247.54 936.67 249.58 944.38 251.25 950.00C252.92 955.62 254.71 960.00 256.25 963.75C257.79 967.50 259.25 973.12 260.50 972.50C261.75 971.88 262.50 964.17 263.75 960.00C265.00 955.83 266.75 949.38 268.00 947.50C269.25 945.62 270.29 948.33 271.25 948.75C272.21 949.17 272.71 951.46 273.75 950.00C274.79 948.54 276.04 942.17 277.50 940.00C278.96 937.83 281.04 937.21 282.50 937.00C283.96 936.79 285.33 939.92 286.25 938.75C287.17 937.58 287.46 934.46 288.00 930.00C288.54 925.54 288.96 922.83 289.50 912.00C290.04 901.17 290.67 881.17 291.25 865.00C291.83 848.83 292.38 831.67 293.00 815.00C293.62 798.33 294.25 777.50 295.00 765.00C295.75 752.50 296.46 745.50 297.50 740.00C298.54 734.50 300.00 733.46 301.25 732.00C302.50 730.54 303.75 731.58 305.00 731.25C306.25 730.92 307.50 729.88 308.75 730.00C310.00 730.12 311.12 730.33 312.50 732.00C313.88 733.67 315.54 739.71 317.00 740.00C318.46 740.29 319.92 734.38 321.25 733.75C322.58 733.12 323.54 734.79 325.00 736.25C326.46 737.71 328.54 740.42 330.00 742.50C331.46 744.58 332.71 749.38 333.75 748.75C334.79 748.12 335.29 742.50 336.25 738.75C337.21 735.00 338.25 728.33 339.50 726.25C340.75 724.17 342.37 725.96 343.75 726.25C345.13 726.54 346.04 727.06 347.80 728.00C349.56 728.94 352.57 729.95 354.30 731.90C356.03 733.85 356.90 735.58 358.20 739.70C359.50 743.82 360.80 750.75 362.10 756.60C363.40 762.45 364.83 770.38 366.00 774.80C367.17 779.22 368.02 783.97 369.10 783.10C370.18 782.23 371.28 774.67 372.50 769.60C373.72 764.53 375.10 756.17 376.40 752.70C377.70 749.23 379.08 748.58 380.30 748.80C381.52 749.02 382.70 752.62 383.70 754.00C384.70 755.38 385.13 757.10 386.30 757.10C387.47 757.10 389.32 756.68 390.70 754.00C392.08 751.32 393.30 743.82 394.60 741.00C395.90 738.18 396.77 737.62 398.50 737.10C400.23 736.58 401.75 737.77 405.00 737.90C408.25 738.03 413.67 737.73 418.00 737.90C422.33 738.07 426.67 738.47 431.00 738.90C435.33 739.33 440.53 740.15 444.00 740.50C447.47 740.85 448.77 741.13 451.80 741.00C454.83 740.87 459.17 740.13 462.20 739.70C465.23 739.27 466.53 738.75 470.00 738.40C473.47 738.05 478.67 737.60 483.00 737.60C487.33 737.60 492.10 737.92 496.00 738.40C499.90 738.88 504.02 740.28 506.40 740.50C508.78 740.72 509.22 739.18 510.30 739.70C511.38 740.22 512.03 742.43 512.90 743.60C513.77 744.77 514.63 746.35 515.50 746.70C516.37 747.05 517.10 745.35 518.10 745.70C519.10 746.05 520.42 749.37 521.50 748.80C522.58 748.23 523.22 743.47 524.60 742.30C525.98 741.13 525.90 741.80 529.80 741.80C533.70 741.80 543.67 742.87 548.00 742.30C552.33 741.73 553.20 739.57 555.80 738.40C558.40 737.23 560.57 736.03 563.60 735.30C566.63 734.57 570.53 734.13 574.00 734.00C577.47 733.87 581.37 734.20 584.40 734.50C587.43 734.80 589.47 735.00 592.20 735.80C594.93 736.60 598.02 737.82 600.80 739.30C603.58 740.78 606.65 742.90 608.90 744.70C611.15 746.50 612.95 746.05 614.30 750.10C615.65 754.15 616.15 762.35 617.00 769.00C617.85 775.65 618.72 783.70 619.40 790.00C620.08 796.30 620.65 803.13 621.10 806.80C621.55 810.47 621.62 812.70 622.10 812.00C622.58 811.30 623.33 805.75 624.00 802.60C624.67 799.45 625.47 795.03 626.10 793.10C626.73 791.17 627.10 790.12 627.80 791.00C628.50 791.88 629.53 794.37 630.30 798.40C631.07 802.43 631.77 807.85 632.40 815.20C633.03 822.55 633.53 832.87 634.10 842.50C634.67 852.13 635.23 871.25 635.80 873.00C636.37 874.75 636.92 860.53 637.50 853.00C638.08 845.47 638.65 834.45 639.30 827.80C639.95 821.15 640.75 816.53 641.40 813.10C642.05 809.67 642.53 810.02 643.20 807.20C643.87 804.38 644.67 800.05 645.40 796.20C646.13 792.35 646.87 787.40 647.60 784.10C648.33 780.80 649.07 778.68 649.80 776.40C650.53 774.12 651.17 771.95 652.00 770.40C652.83 768.85 653.88 767.93 654.80 767.10C655.72 766.27 656.58 765.50 657.50 765.40C658.42 765.30 659.38 766.40 660.30 766.50C661.22 766.60 662.18 765.90 663.00 766.00C663.82 766.10 664.47 766.37 665.20 767.10C665.93 767.83 666.75 769.58 667.40 770.40C668.05 771.22 668.45 772.10 669.10 772.00C669.75 771.90 670.57 769.80 671.30 769.80C672.03 769.80 672.77 770.90 673.50 772.00C674.23 773.10 674.78 775.93 675.70 776.40C676.62 776.87 678.00 774.62 679.00 774.80C680.00 774.98 680.88 776.77 681.70 777.50C682.52 778.23 683.17 778.92 683.90 779.20C684.63 779.48 685.37 778.75 686.10 779.20C686.83 779.65 687.57 780.72 688.30 781.90C689.03 783.08 689.77 784.47 690.50 786.30C691.23 788.13 691.78 790.52 692.70 792.90C693.62 795.28 694.90 798.03 696.00 800.60C697.10 803.17 698.20 806.10 699.30 808.30C700.40 810.50 701.75 812.65 702.60 813.80C703.45 814.95 703.22 813.05 704.40 815.20C705.58 817.35 708.12 822.85 709.70 826.70C711.28 830.55 712.68 836.02 713.90 838.30C715.12 840.58 715.95 837.95 717.00 840.40C718.05 842.85 718.97 848.10 720.20 853.00C721.43 857.90 723.00 864.20 724.40 869.80C725.80 875.40 727.20 881.00 728.60 886.60C730.00 892.20 731.57 899.38 732.80 903.40C734.03 907.42 734.95 908.95 736.00 910.70C737.05 912.45 738.23 912.73 739.10 913.90C739.97 915.07 740.33 917.88 741.20 917.70C742.07 917.52 743.08 914.67 744.30 912.80C745.52 910.93 746.92 910.52 748.50 906.50C750.08 902.48 752.22 894.12 753.80 888.70C755.38 883.28 756.25 880.30 758.00 874.00C759.75 867.70 762.50 858.23 764.30 850.90C766.10 843.57 767.55 835.82 768.80 830.00C770.05 824.18 770.80 821.03 771.80 816.00C772.80 810.97 773.90 804.60 774.80 799.80C775.70 795.00 776.40 791.20 777.20 787.20C778.00 783.20 778.80 779.20 779.60 775.80C780.40 772.40 781.20 769.20 782.00 766.80C782.80 764.40 783.70 762.70 784.40 761.40C785.10 760.10 785.60 760.10 786.20 759.00C786.80 757.90 787.30 756.20 788.00 754.80C788.70 753.40 789.50 751.58 790.40 750.60C791.30 749.62 792.60 749.63 793.40 748.90C794.20 748.17 794.60 747.18 795.20 746.20C795.80 745.22 796.25 744.05 797.00 743.00C797.75 741.95 798.80 740.65 799.70 739.90C800.60 739.15 801.65 738.50 802.40 738.50C803.15 738.50 803.45 739.75 804.20 739.90C804.95 740.05 806.15 739.93 806.90 739.40C807.65 738.87 807.95 737.22 808.70 736.70C809.45 736.18 810.50 736.67 811.40 736.30C812.30 735.93 813.35 734.58 814.10 734.50C814.85 734.42 815.15 735.20 815.90 735.80C816.65 736.40 817.70 737.65 818.60 738.10C819.50 738.55 820.40 738.50 821.30 738.50C822.20 738.50 823.10 737.95 824.00 738.10C824.90 738.25 825.95 739.03 826.70 739.40C827.45 739.77 827.75 740.60 828.50 740.30C829.25 740.00 830.30 738.12 831.20 737.60C832.10 737.08 833.00 737.20 833.90 737.20C834.80 737.20 835.70 737.45 836.60 737.60C837.50 737.75 838.40 738.17 839.30 738.10C840.20 738.03 841.10 737.35 842.00 737.20C842.90 737.05 843.80 736.90 844.70 737.20C845.60 737.50 846.50 739.15 847.40 739.00C848.30 738.85 849.20 736.53 850.10 736.30C851.00 736.07 851.75 737.38 852.80 737.60C853.85 737.82 855.80 737.60 856.40 737.60" fill="none" stroke="#40b058" stroke-width="1.90" stroke-linejoin="round" stroke-linecap="round"/><rect x="114.90" y="718.90" width="743.00" height="599.00" fill="none" stroke="#000" stroke-width="2.20"/><line x1="109.90" y1="1317.00" x2="114.90" y2="1317.00" stroke="#000" stroke-width="1.80"/><line x1="104.90" y1="1252.70" x2="114.90" y2="1252.70" stroke="#000" stroke-width="1.80"/><text x="97.90" y="1259.12" font-family='"Liberation Sans", sans-serif' font-size="21.80" text-anchor="end" fill="#000">20</text><line x1="109.90" y1="1188.40" x2="114.90" y2="1188.40" stroke="#000" stroke-width="1.80"/><line x1="104.90" y1="1124.10" x2="114.90" y2="1124.10" stroke="#000" stroke-width="1.80"/><text x="97.90" y="1130.52" font-family='"Liberation Sans", sans-serif' font-size="21.80" text-anchor="end" fill="#000">40</text><line x1="109.90" y1="1059.80" x2="114.90" y2="1059.80" stroke="#000" stroke-width="1.80"/><line x1="104.90" y1="995.50" x2="114.90" y2="995.50" stroke="#000" stroke-width="1.80"/><text x="97.90" y="1001.92" font-family='"Liberation Sans", sans-serif' font-size="21.80" text-anchor="end" fill="#000">60</text><line x1="109.90" y1="931.20" x2="114.90" y2="931.20" stroke="#000" stroke-width="1.80"/><line x1="104.90" y1="866.90" x2="114.90" y2="866.90" stroke="#000" stroke-width="1.80"/><text x="97.90" y="873.32" font-family='"Liberation Sans", sans-serif' font-size="21.80" text-anchor="end" fill="#000">80</text><line x1="109.90" y1="802.60" x2="114.90" y2="802.60" stroke="#000" stroke-width="1.80"/><line x1="104.90" y1="738.30" x2="114.90" y2="738.30" stroke="#000" stroke-width="1.80"/><text x="97.90" y="744.72" font-family='"Liberation Sans", sans-serif' font-size="21.80" text-anchor="end" fill="#000">100</text><line x1="135.40" y1="1317.90" x2="135.40" y2="1327.90" stroke="#000" stroke-width="1.80"/><text x="135.40" y="1351.40" font-family='"Liberation Sans", sans-serif' font-size="21.80" text-anchor="middle" fill="#000">500</text><line x1="187.02" y1="1317.90" x2="187.02" y2="1322.90" stroke="#000" stroke-width="1.80"/><line x1="238.63" y1="1317.90" x2="238.63" y2="1327.90" stroke="#000" stroke-width="1.80"/><text x="238.63" y="1351.40" font-family='"Liberation Sans", sans-serif' font-size="21.80" text-anchor="middle" fill="#000">1000</text><line x1="290.25" y1="1317.90" x2="290.25" y2="1322.90" stroke="#000" stroke-width="1.80"/><line x1="341.87" y1="1317.90" x2="341.87" y2="1327.90" stroke="#000" stroke-width="1.80"/><text x="341.87" y="1351.40" font-family='"Liberation Sans", sans-serif' font-size="21.80" text-anchor="middle" fill="#000">1500</text><line x1="393.49" y1="1317.90" x2="393.49" y2="1322.90" stroke="#000" stroke-width="1.80"/><line x1="445.11" y1="1317.90" x2="445.11" y2="1327.90" stroke="#000" stroke-width="1.80"/><text x="445.11" y="1351.40" font-family='"Liberation Sans", sans-serif' font-size="21.80" text-anchor="middle" fill="#000">2000</text><line x1="496.72" y1="1317.90" x2="496.72" y2="1322.90" stroke="#000" stroke-width="1.80"/><line x1="548.34" y1="1317.90" x2="548.34" y2="1327.90" stroke="#000" stroke-width="1.80"/><text x="548.34" y="1351.40" font-family='"Liberation Sans", sans-serif' font-size="21.80" text-anchor="middle" fill="#000">2500</text><line x1="599.96" y1="1317.90" x2="599.96" y2="1322.90" stroke="#000" stroke-width="1.80"/><line x1="651.57" y1="1317.90" x2="651.57" y2="1327.90" stroke="#000" stroke-width="1.80"/><text x="651.57" y="1351.40" font-family='"Liberation Sans", sans-serif' font-size="21.80" text-anchor="middle" fill="#000">3000</text><line x1="703.19" y1="1317.90" x2="703.19" y2="1322.90" stroke="#000" stroke-width="1.80"/><line x1="754.81" y1="1317.90" x2="754.81" y2="1327.90" stroke="#000" stroke-width="1.80"/><text x="754.81" y="1351.40" font-family='"Liberation Sans", sans-serif' font-size="21.80" text-anchor="middle" fill="#000">3500</text><line x1="806.43" y1="1317.90" x2="806.43" y2="1322.90" stroke="#000" stroke-width="1.80"/><line x1="858.04" y1="1317.90" x2="858.04" y2="1327.90" stroke="#000" stroke-width="1.80"/><text x="858.04" y="1351.40" font-family='"Liberation Sans", sans-serif' font-size="21.80" text-anchor="middle" fill="#000">4000</text><text transform="matrix(0.29155 0.00000 0.00000 0.29552 370.500 1397.609)" font-family='"Liberation Serif", serif' font-size="100" fill="#000">Wavenumber (cm<tspan font-size="64" dy="-39">-1</tspan><tspan dy="39">)</tspan></text><text transform="matrix(0.00000 -0.29037 0.30000 0.00000 50.500 1126.331)" font-family='"Liberation Serif", serif' font-size="100" fill="#000">Transmittance (%)</text><text transform="matrix(0.00000 0.17181 -0.17910 0.00000 180.358 1268.397)" font-family='"Liberation Serif", serif' font-size="100" fill="#000">Si–C</text><text transform="matrix(0.00000 0.17000 -0.18284 0.00000 272.016 977.810)" font-family='"Liberation Serif", serif' font-size="100" fill="#000">Si–O–Si</text><text transform="matrix(0.00000 0.16923 -0.17910 0.00000 606.358 867.423)" font-family='"Liberation Serif", serif' font-size="100" fill="#000">C–H</text><text transform="matrix(0.00000 0.16543 -0.18358 0.00000 752.767 919.838)" font-family='"Liberation Serif", serif' font-size="100" fill="#000">O–H</text><rect x="863.50" y="715.50" width="133.80" height="56.60" fill="#fff" stroke="#777" stroke-width="1.2"/><line x1="866.00" y1="731.00" x2="916.40" y2="731.00" stroke="#2d63ee" stroke-width="2.2"/><text transform="matrix(0.21642 0.00000 0.00000 0.23235 921.151 738.535)" font-family='"Liberation Serif", serif' font-size="100" fill="#000">NS100</text><line x1="866.00" y1="758.00" x2="916.40" y2="758.00" stroke="#40b058" stroke-width="2.2"/><text transform="matrix(0.21441 0.00000 0.00000 0.22500 921.771 765.250)" font-family='"Liberation Serif", serif' font-size="100" fill="#000">TNS100</text><text transform="matrix(0.34259 0.00000 0.00000 0.34667 0.630 742.720)" font-family='"Liberation Serif", serif' font-size="100" fill="#000">(b)</text></g>
<g><line x1="196.08" y1="1422.70" x2="196.08" y2="2029.90" stroke="#1e1e1e" stroke-width="1.60" stroke-dasharray="6.30 6.13" stroke-dashoffset="8.73"/><line x1="251.90" y1="1419.60" x2="251.90" y2="2029.90" stroke="#1e1e1e" stroke-width="1.60" stroke-dasharray="6.30 6.13" stroke-dashoffset="4.03"/><line x1="632.05" y1="1419.70" x2="632.05" y2="2029.90" stroke="#1e1e1e" stroke-width="1.60" stroke-dasharray="6.30 6.13" stroke-dashoffset="4.73"/><line x1="739.37" y1="1419.70" x2="739.37" y2="2029.90" stroke="#1e1e1e" stroke-width="1.60" stroke-dasharray="6.30 6.13" stroke-dashoffset="4.73"/><path d="M104.50 1500.50C105.00 1503.00 106.38 1509.25 107.50 1515.50C108.62 1521.75 109.79 1531.33 111.25 1538.00C112.71 1544.67 114.79 1554.25 116.25 1555.50C117.71 1556.75 118.75 1549.04 120.00 1545.50C121.25 1541.96 122.62 1536.54 123.75 1534.25C124.88 1531.96 125.50 1530.29 126.75 1531.75C128.00 1533.21 129.67 1538.42 131.25 1543.00C132.83 1547.58 134.58 1554.25 136.25 1559.25C137.92 1564.25 139.58 1568.21 141.25 1573.00C142.92 1577.79 144.79 1582.79 146.25 1588.00C147.71 1593.21 148.75 1600.50 150.00 1604.25C151.25 1608.00 152.29 1607.88 153.75 1610.50C155.21 1613.12 157.08 1615.08 158.75 1620.00C160.42 1624.92 162.29 1633.33 163.75 1640.00C165.21 1646.67 166.25 1652.50 167.50 1660.00C168.75 1667.50 170.00 1675.83 171.25 1685.00C172.50 1694.17 173.75 1704.58 175.00 1715.00C176.25 1725.42 177.50 1736.25 178.75 1747.50C180.00 1758.75 181.38 1771.25 182.50 1782.50C183.62 1793.75 184.67 1803.75 185.50 1815.00C186.33 1826.25 186.75 1840.42 187.50 1850.00C188.25 1859.58 189.17 1866.67 190.00 1872.50C190.83 1878.33 191.75 1882.08 192.50 1885.00C193.25 1887.92 193.67 1890.00 194.50 1890.00C195.33 1890.00 196.17 1887.50 197.50 1885.00C198.83 1882.50 200.83 1879.17 202.50 1875.00C204.17 1870.83 206.04 1865.83 207.50 1860.00C208.96 1854.17 210.21 1846.67 211.25 1840.00C212.29 1833.33 213.04 1825.83 213.75 1820.00C214.46 1814.17 214.96 1810.83 215.50 1805.00C216.04 1799.17 216.33 1794.58 217.00 1785.00C217.67 1775.42 218.67 1760.83 219.50 1747.50C220.33 1734.17 221.29 1717.50 222.00 1705.00C222.71 1692.50 223.04 1682.08 223.75 1672.50C224.46 1662.92 225.42 1655.00 226.25 1647.50C227.08 1640.00 227.92 1632.92 228.75 1627.50C229.58 1622.08 230.42 1618.25 231.25 1615.00C232.08 1611.75 232.79 1609.79 233.75 1608.00C234.71 1606.21 235.96 1604.25 237.00 1604.25C238.04 1604.25 238.88 1607.38 240.00 1608.00C241.12 1608.62 242.50 1609.25 243.75 1608.00C245.00 1606.75 246.46 1603.83 247.50 1600.50C248.54 1597.17 248.96 1593.42 250.00 1588.00C251.04 1582.58 252.50 1574.25 253.75 1568.00C255.00 1561.75 256.12 1555.08 257.50 1550.50C258.88 1545.92 260.33 1543.83 262.00 1540.50C263.67 1537.17 265.75 1534.25 267.50 1530.50C269.25 1526.75 271.04 1523.42 272.50 1518.00C273.96 1512.58 275.21 1504.67 276.25 1498.00C277.29 1491.33 278.04 1484.25 278.75 1478.00C279.46 1471.75 279.88 1464.67 280.50 1460.50C281.12 1456.33 281.67 1454.04 282.50 1453.00C283.33 1451.96 284.25 1454.67 285.50 1454.25C286.75 1453.83 288.42 1450.29 290.00 1450.50C291.58 1450.71 292.92 1454.25 295.00 1455.50C297.08 1456.75 300.00 1457.38 302.50 1458.00C305.00 1458.62 308.12 1458.83 310.00 1459.25C311.88 1459.67 312.50 1460.62 313.75 1460.50C315.00 1460.38 315.62 1458.92 317.50 1458.50C319.38 1458.08 322.50 1458.71 325.00 1458.00C327.50 1457.29 330.42 1454.46 332.50 1454.25C334.58 1454.04 335.83 1456.21 337.50 1456.75C339.17 1457.29 341.22 1457.24 342.50 1457.50C343.78 1457.76 343.88 1457.52 345.20 1458.30C346.52 1459.08 348.67 1460.25 350.40 1462.20C352.13 1464.15 353.87 1467.40 355.60 1470.00C357.33 1472.60 359.07 1477.15 360.80 1477.80C362.53 1478.45 364.48 1475.42 366.00 1473.90C367.52 1472.38 368.17 1470.00 369.90 1468.70C371.63 1467.40 374.23 1466.97 376.40 1466.10C378.57 1465.23 380.73 1464.23 382.90 1463.50C385.07 1462.77 386.15 1461.92 389.40 1461.70C392.65 1461.48 397.63 1462.33 402.40 1462.20C407.17 1462.07 411.07 1461.12 418.00 1460.90C424.93 1460.68 435.33 1460.90 444.00 1460.90C452.67 1460.90 462.20 1460.60 470.00 1460.90C477.80 1461.20 484.30 1462.27 490.80 1462.70C497.30 1463.13 501.63 1463.07 509.00 1463.50C516.37 1463.93 526.33 1464.43 535.00 1465.30C543.67 1466.17 553.63 1467.05 561.00 1468.70C568.37 1470.35 574.43 1473.03 579.20 1475.20C583.97 1477.37 586.45 1479.53 589.60 1481.70C592.75 1483.87 595.33 1486.30 598.10 1488.20C600.87 1490.10 603.50 1491.52 606.20 1493.10C608.90 1494.68 611.75 1496.47 614.30 1497.70C616.85 1498.93 619.42 1499.60 621.50 1500.50C623.58 1501.40 625.00 1502.13 626.75 1503.10C628.50 1504.07 630.42 1505.77 632.00 1506.30C633.58 1506.83 634.10 1506.02 636.20 1506.30C638.30 1506.58 641.80 1507.30 644.60 1508.00C647.40 1508.70 649.85 1509.73 653.00 1510.50C656.15 1511.27 660.00 1511.72 663.50 1512.60C667.00 1513.47 671.25 1515.15 674.00 1515.75C676.75 1516.35 677.40 1515.86 680.00 1516.20C682.60 1516.54 686.60 1517.40 689.60 1517.80C692.60 1518.20 695.60 1518.53 698.00 1518.60C700.40 1518.67 702.00 1518.50 704.00 1518.20C706.00 1517.90 708.20 1517.13 710.00 1516.80C711.80 1516.47 713.20 1516.00 714.80 1516.20C716.40 1516.40 717.80 1517.20 719.60 1518.00C721.40 1518.80 723.60 1520.20 725.60 1521.00C727.60 1521.80 729.80 1522.73 731.60 1522.80C733.40 1522.87 735.00 1522.00 736.40 1521.40C737.80 1520.80 738.60 1520.57 740.00 1519.20C741.40 1517.83 743.20 1515.30 744.80 1513.20C746.40 1511.10 748.00 1509.00 749.60 1506.60C751.20 1504.20 752.80 1501.50 754.40 1498.80C756.00 1496.10 757.60 1493.30 759.20 1490.40C760.80 1487.50 762.80 1483.70 764.00 1481.40C765.20 1479.10 765.60 1478.10 766.40 1476.60C767.20 1475.10 768.10 1473.90 768.80 1472.40C769.50 1470.90 769.95 1468.90 770.60 1467.60C771.25 1466.30 771.97 1466.45 772.70 1464.60C773.43 1462.75 774.25 1458.75 775.00 1456.50C775.75 1454.25 776.38 1452.52 777.20 1451.10C778.02 1449.68 779.15 1449.35 779.90 1448.00C780.65 1446.65 781.18 1444.28 781.70 1443.00C782.22 1441.72 782.55 1440.30 783.00 1440.30C783.45 1440.30 783.93 1442.77 784.40 1443.00C784.87 1443.23 785.27 1442.60 785.80 1441.70C786.33 1440.80 787.08 1438.05 787.60 1437.60C788.12 1437.15 788.45 1438.17 788.90 1439.00C789.35 1439.83 789.70 1442.00 790.30 1442.60C790.90 1443.20 791.68 1442.75 792.50 1442.60C793.32 1442.45 794.30 1441.85 795.20 1441.70C796.10 1441.55 797.00 1441.70 797.90 1441.70C798.80 1441.70 799.70 1441.55 800.60 1441.70C801.50 1441.85 802.40 1442.38 803.30 1442.60C804.20 1442.82 805.10 1443.23 806.00 1443.00C806.90 1442.77 807.80 1441.42 808.70 1441.20C809.60 1440.98 810.50 1442.00 811.40 1441.70C812.30 1441.40 813.35 1439.55 814.10 1439.40C814.85 1439.25 815.15 1440.35 815.90 1440.80C816.65 1441.25 817.55 1441.88 818.60 1442.10C819.65 1442.32 821.00 1442.17 822.20 1442.10C823.40 1442.03 824.60 1441.55 825.80 1441.70C827.00 1441.85 828.20 1442.78 829.40 1443.00C830.60 1443.22 831.80 1443.00 833.00 1443.00C834.20 1443.00 835.70 1442.85 836.60 1443.00C837.50 1443.15 837.65 1444.05 838.40 1443.90C839.15 1443.75 840.05 1442.32 841.10 1442.10C842.15 1441.88 843.50 1442.52 844.70 1442.60C845.90 1442.68 847.10 1442.68 848.30 1442.60C849.50 1442.52 850.55 1442.25 851.90 1442.10C853.25 1441.95 855.65 1441.77 856.40 1441.70" fill="none" stroke="#a25ae8" stroke-width="1.90" stroke-linejoin="round" stroke-linecap="round"/><path d="M105.00 1442.25C105.62 1443.21 107.50 1443.71 108.75 1448.00C110.00 1452.29 111.25 1459.25 112.50 1468.00C113.75 1476.75 115.00 1491.33 116.25 1500.50C117.50 1509.67 118.88 1517.38 120.00 1523.00C121.12 1528.62 122.08 1534.25 123.00 1534.25C123.92 1534.25 124.54 1529.04 125.50 1523.00C126.46 1516.96 127.58 1503.83 128.75 1498.00C129.92 1492.17 131.12 1490.42 132.50 1488.00C133.88 1485.58 135.54 1484.12 137.00 1483.50C138.46 1482.88 139.92 1483.50 141.25 1484.25C142.58 1485.00 143.62 1486.33 145.00 1488.00C146.38 1489.67 148.04 1493.50 149.50 1494.25C150.96 1495.00 152.33 1492.92 153.75 1492.50C155.17 1492.08 157.04 1492.71 158.00 1491.75C158.96 1490.79 158.96 1486.75 159.50 1486.75C160.04 1486.75 160.12 1491.33 161.25 1491.75C162.38 1492.17 164.58 1489.04 166.25 1489.25C167.92 1489.46 169.58 1491.12 171.25 1493.00C172.92 1494.88 174.58 1497.17 176.25 1500.50C177.92 1503.83 179.79 1508.00 181.25 1513.00C182.71 1518.00 183.96 1523.83 185.00 1530.50C186.04 1537.17 186.67 1543.42 187.50 1553.00C188.33 1562.58 189.25 1577.17 190.00 1588.00C190.75 1598.83 191.38 1608.08 192.00 1618.00C192.62 1627.92 193.04 1634.25 193.75 1647.50C194.46 1660.75 195.21 1684.17 196.25 1697.50C197.29 1710.83 198.54 1717.08 200.00 1727.50C201.46 1737.92 203.54 1750.83 205.00 1760.00C206.46 1769.17 207.62 1778.00 208.75 1782.50C209.88 1787.00 210.71 1787.00 211.75 1787.00C212.79 1787.00 214.04 1787.00 215.00 1782.50C215.96 1778.00 216.67 1770.00 217.50 1760.00C218.33 1750.00 219.17 1735.83 220.00 1722.50C220.83 1709.17 221.67 1692.08 222.50 1680.00C223.33 1667.92 224.17 1657.50 225.00 1650.00C225.83 1642.50 226.67 1637.92 227.50 1635.00C228.33 1632.08 229.17 1631.67 230.00 1632.50C230.83 1633.33 231.46 1636.25 232.50 1640.00C233.54 1643.75 235.00 1649.58 236.25 1655.00C237.50 1660.42 238.54 1666.67 240.00 1672.50C241.46 1678.33 243.54 1685.62 245.00 1690.00C246.46 1694.38 247.71 1697.00 248.75 1698.75C249.79 1700.50 250.42 1701.54 251.25 1700.50C252.08 1699.46 252.71 1696.33 253.75 1692.50C254.79 1688.67 256.38 1680.83 257.50 1677.50C258.62 1674.17 259.46 1673.12 260.50 1672.50C261.54 1671.88 262.79 1674.58 263.75 1673.75C264.71 1672.92 265.21 1670.00 266.25 1667.50C267.29 1665.00 268.54 1660.92 270.00 1658.75C271.46 1656.58 273.67 1655.21 275.00 1654.50C276.33 1653.79 277.17 1656.08 278.00 1654.50C278.83 1652.92 279.46 1649.92 280.00 1645.00C280.54 1640.08 280.83 1632.50 281.25 1625.00C281.67 1617.50 282.17 1609.50 282.50 1600.00C282.83 1590.50 282.83 1581.67 283.25 1568.00C283.67 1554.33 284.50 1532.58 285.00 1518.00C285.50 1503.42 285.75 1490.92 286.25 1480.50C286.75 1470.08 287.29 1461.96 288.00 1455.50C288.71 1449.04 289.54 1444.25 290.50 1441.75C291.46 1439.25 292.58 1440.42 293.75 1440.50C294.92 1440.58 296.04 1442.04 297.50 1442.25C298.96 1442.46 300.83 1440.88 302.50 1441.75C304.17 1442.62 305.83 1446.96 307.50 1447.50C309.17 1448.04 310.62 1445.00 312.50 1445.00C314.38 1445.00 316.88 1447.83 318.75 1447.50C320.62 1447.17 322.29 1443.96 323.75 1443.00C325.21 1442.04 326.25 1443.21 327.50 1441.75C328.75 1440.29 329.79 1435.38 331.25 1434.25C332.71 1433.12 334.79 1434.89 336.25 1435.00C337.71 1435.11 338.51 1434.48 340.00 1434.90C341.49 1435.32 343.47 1435.77 345.20 1437.50C346.93 1439.23 348.88 1441.62 350.40 1445.30C351.92 1448.98 353.00 1453.75 354.30 1459.60C355.60 1465.45 356.90 1474.98 358.20 1480.40C359.50 1485.82 360.80 1492.10 362.10 1492.10C363.40 1492.10 364.70 1486.25 366.00 1480.40C367.30 1474.55 368.38 1463.28 369.90 1457.00C371.42 1450.72 373.15 1445.82 375.10 1442.70C377.05 1439.58 379.43 1439.17 381.60 1438.30C383.77 1437.43 385.50 1437.20 388.10 1437.50C390.70 1437.80 393.52 1439.10 397.20 1440.10C400.88 1441.10 405.43 1442.50 410.20 1443.50C414.97 1444.50 420.17 1445.28 425.80 1446.10C431.43 1446.92 438.80 1448.32 444.00 1448.40C449.20 1448.48 452.67 1447.33 457.00 1446.60C461.33 1445.87 465.67 1444.73 470.00 1444.00C474.33 1443.27 478.67 1442.55 483.00 1442.20C487.33 1441.85 492.75 1442.12 496.00 1441.90C499.25 1441.68 500.63 1442.28 502.50 1440.90C504.37 1439.52 505.90 1433.08 507.20 1433.60C508.50 1434.12 509.35 1443.22 510.30 1444.00C511.25 1444.78 511.38 1438.30 512.90 1438.30C514.42 1438.30 516.58 1442.83 519.40 1444.00C522.22 1445.17 525.90 1444.87 529.80 1445.30C533.70 1445.73 538.90 1446.82 542.80 1446.60C546.70 1446.38 549.30 1444.78 553.20 1444.00C557.10 1443.22 560.57 1442.12 566.20 1441.90C571.83 1441.68 583.03 1442.53 587.00 1442.70C590.97 1442.87 588.77 1442.93 590.00 1442.90C591.23 1442.87 592.93 1442.72 594.40 1442.50C595.87 1442.28 597.42 1441.93 598.80 1441.60C600.18 1441.27 601.42 1440.53 602.70 1440.50C603.98 1440.47 605.03 1440.93 606.50 1441.40C607.97 1441.87 610.12 1442.35 611.50 1443.30C612.88 1444.25 613.70 1445.63 614.80 1447.10C615.90 1448.57 617.00 1450.53 618.10 1452.10C619.20 1453.67 620.40 1455.58 621.40 1456.50C622.40 1457.42 623.10 1456.78 624.10 1457.60C625.10 1458.42 626.30 1460.30 627.40 1461.40C628.50 1462.50 629.60 1463.65 630.70 1464.20C631.80 1464.75 632.72 1464.83 634.00 1464.70C635.28 1464.57 637.30 1462.85 638.40 1463.40C639.50 1463.95 639.77 1466.40 640.60 1468.00C641.43 1469.60 642.48 1472.90 643.40 1473.00C644.32 1473.10 645.18 1469.88 646.10 1468.60C647.02 1467.32 647.98 1465.48 648.90 1465.30C649.82 1465.12 650.78 1467.13 651.60 1467.50C652.42 1467.87 652.88 1466.87 653.80 1467.50C654.72 1468.13 656.00 1470.48 657.10 1471.30C658.20 1472.12 659.38 1471.67 660.40 1472.40C661.42 1473.13 662.37 1474.42 663.20 1475.70C664.03 1476.98 664.58 1479.37 665.40 1480.10C666.22 1480.83 667.10 1479.18 668.10 1480.10C669.10 1481.02 670.57 1484.03 671.40 1485.60C672.23 1487.17 672.55 1488.95 673.10 1489.50C673.65 1490.05 673.88 1488.27 674.70 1488.90C675.52 1489.53 676.90 1491.65 678.00 1493.30C679.10 1494.95 680.57 1497.68 681.30 1498.80C682.03 1499.92 681.52 1498.40 682.40 1500.00C683.28 1501.60 685.20 1505.25 686.60 1508.40C688.00 1511.55 689.40 1515.05 690.80 1518.90C692.20 1522.75 693.60 1527.65 695.00 1531.50C696.40 1535.35 697.63 1538.50 699.20 1542.00C700.77 1545.50 703.18 1550.23 704.40 1552.50C705.62 1554.77 705.44 1552.80 706.50 1555.60C707.56 1558.40 709.33 1566.32 710.75 1569.30C712.17 1572.28 713.61 1570.00 715.00 1573.50C716.39 1577.00 717.53 1584.35 719.10 1590.30C720.67 1596.25 723.00 1603.42 724.40 1609.20C725.80 1614.98 726.45 1620.45 727.50 1625.00C728.55 1629.55 729.47 1633.18 730.70 1636.50C731.93 1639.82 733.50 1642.28 734.90 1644.90C736.30 1647.52 737.88 1651.50 739.10 1652.20C740.33 1652.90 741.03 1649.80 742.25 1649.10C743.47 1648.40 744.82 1650.80 746.40 1648.00C747.98 1645.20 749.77 1638.42 751.70 1632.30C753.63 1626.18 755.90 1619.35 758.00 1611.30C760.10 1603.25 762.20 1593.80 764.30 1584.00C766.40 1574.20 768.85 1561.50 770.60 1552.50C772.35 1543.50 773.70 1536.35 774.80 1530.00C775.90 1523.65 776.40 1519.60 777.20 1514.40C778.00 1509.20 778.80 1502.80 779.60 1498.80C780.40 1494.80 781.30 1494.00 782.00 1490.40C782.70 1486.80 783.10 1479.80 783.80 1477.20C784.50 1474.60 785.50 1477.00 786.20 1474.80C786.90 1472.60 787.50 1466.40 788.00 1464.00C788.50 1461.60 788.60 1460.90 789.20 1460.40C789.80 1459.90 790.80 1461.10 791.60 1461.00C792.40 1460.90 793.30 1460.60 794.00 1459.80C794.70 1459.00 795.30 1456.90 795.80 1456.20C796.30 1455.50 796.50 1455.85 797.00 1455.60C797.50 1455.35 798.12 1455.30 798.80 1454.70C799.48 1454.10 800.72 1452.45 801.10 1452.00C801.48 1451.55 800.80 1452.75 801.10 1452.00C801.40 1451.25 802.38 1449.37 802.90 1447.50C803.42 1445.63 803.75 1441.40 804.20 1440.80C804.65 1440.20 805.15 1442.33 805.60 1443.90C806.05 1445.47 806.38 1449.07 806.90 1450.20C807.42 1451.33 808.10 1450.70 808.70 1450.70C809.30 1450.70 809.90 1450.13 810.50 1450.20C811.10 1450.27 811.70 1451.25 812.30 1451.10C812.90 1450.95 813.65 1450.35 814.10 1449.30C814.55 1448.25 814.62 1446.00 815.00 1444.80C815.38 1443.60 815.95 1442.32 816.40 1442.10C816.85 1441.88 817.25 1443.65 817.70 1443.50C818.15 1443.35 818.57 1441.28 819.10 1441.20C819.63 1441.12 820.23 1443.07 820.90 1443.00C821.57 1442.93 822.43 1441.25 823.10 1440.80C823.77 1440.35 824.30 1441.43 824.90 1440.30C825.50 1439.17 826.17 1434.60 826.70 1434.00C827.23 1433.40 827.65 1435.72 828.10 1436.70C828.55 1437.68 828.88 1439.30 829.40 1439.90C829.92 1440.50 830.60 1440.00 831.20 1440.30C831.80 1440.60 832.40 1441.62 833.00 1441.70C833.60 1441.78 834.12 1441.03 834.80 1440.80C835.48 1440.57 836.50 1440.00 837.10 1440.30C837.70 1440.60 837.88 1442.00 838.40 1442.60C838.92 1443.20 839.30 1443.68 840.20 1443.90C841.10 1444.12 842.60 1443.90 843.80 1443.90C845.00 1443.90 846.20 1443.97 847.40 1443.90C848.60 1443.83 849.80 1443.57 851.00 1443.50C852.20 1443.43 853.70 1443.73 854.60 1443.50C855.50 1443.27 856.10 1442.33 856.40 1442.10" fill="none" stroke="#c6931d" stroke-width="1.90" stroke-linejoin="round" stroke-linecap="round"/><rect x="104.00" y="1422.70" width="753.60" height="607.20" fill="none" stroke="#000" stroke-width="2.20"/><line x1="99.00" y1="2030.38" x2="104.00" y2="2030.38" stroke="#000" stroke-width="1.80"/><line x1="94.00" y1="1965.06" x2="104.00" y2="1965.06" stroke="#000" stroke-width="1.80"/><text x="86.90" y="1971.48" font-family='"Liberation Sans", sans-serif' font-size="22.10" text-anchor="end" fill="#000">20</text><line x1="99.00" y1="1899.74" x2="104.00" y2="1899.74" stroke="#000" stroke-width="1.80"/><line x1="94.00" y1="1834.42" x2="104.00" y2="1834.42" stroke="#000" stroke-width="1.80"/><text x="86.90" y="1840.84" font-family='"Liberation Sans", sans-serif' font-size="22.10" text-anchor="end" fill="#000">40</text><line x1="99.00" y1="1769.10" x2="104.00" y2="1769.10" stroke="#000" stroke-width="1.80"/><line x1="94.00" y1="1703.78" x2="104.00" y2="1703.78" stroke="#000" stroke-width="1.80"/><text x="86.90" y="1710.20" font-family='"Liberation Sans", sans-serif' font-size="22.10" text-anchor="end" fill="#000">60</text><line x1="99.00" y1="1638.46" x2="104.00" y2="1638.46" stroke="#000" stroke-width="1.80"/><line x1="94.00" y1="1573.14" x2="104.00" y2="1573.14" stroke="#000" stroke-width="1.80"/><text x="86.90" y="1579.56" font-family='"Liberation Sans", sans-serif' font-size="22.10" text-anchor="end" fill="#000">80</text><line x1="99.00" y1="1507.82" x2="104.00" y2="1507.82" stroke="#000" stroke-width="1.80"/><line x1="94.00" y1="1442.50" x2="104.00" y2="1442.50" stroke="#000" stroke-width="1.80"/><text x="86.90" y="1448.92" font-family='"Liberation Sans", sans-serif' font-size="22.10" text-anchor="end" fill="#000">100</text><line x1="124.40" y1="2029.90" x2="124.40" y2="2039.90" stroke="#000" stroke-width="1.80"/><text x="124.40" y="2064.20" font-family='"Liberation Sans", sans-serif' font-size="22.10" text-anchor="middle" fill="#000">500</text><line x1="176.80" y1="2029.90" x2="176.80" y2="2034.90" stroke="#000" stroke-width="1.80"/><line x1="229.20" y1="2029.90" x2="229.20" y2="2039.90" stroke="#000" stroke-width="1.80"/><text x="229.20" y="2064.20" font-family='"Liberation Sans", sans-serif' font-size="22.10" text-anchor="middle" fill="#000">1000</text><line x1="281.60" y1="2029.90" x2="281.60" y2="2034.90" stroke="#000" stroke-width="1.80"/><line x1="334.00" y1="2029.90" x2="334.00" y2="2039.90" stroke="#000" stroke-width="1.80"/><text x="334.00" y="2064.20" font-family='"Liberation Sans", sans-serif' font-size="22.10" text-anchor="middle" fill="#000">1500</text><line x1="386.40" y1="2029.90" x2="386.40" y2="2034.90" stroke="#000" stroke-width="1.80"/><line x1="438.80" y1="2029.90" x2="438.80" y2="2039.90" stroke="#000" stroke-width="1.80"/><text x="438.80" y="2064.20" font-family='"Liberation Sans", sans-serif' font-size="22.10" text-anchor="middle" fill="#000">2000</text><line x1="491.20" y1="2029.90" x2="491.20" y2="2034.90" stroke="#000" stroke-width="1.80"/><line x1="543.60" y1="2029.90" x2="543.60" y2="2039.90" stroke="#000" stroke-width="1.80"/><text x="543.60" y="2064.20" font-family='"Liberation Sans", sans-serif' font-size="22.10" text-anchor="middle" fill="#000">2500</text><line x1="596.00" y1="2029.90" x2="596.00" y2="2034.90" stroke="#000" stroke-width="1.80"/><line x1="648.40" y1="2029.90" x2="648.40" y2="2039.90" stroke="#000" stroke-width="1.80"/><text x="648.40" y="2064.20" font-family='"Liberation Sans", sans-serif' font-size="22.10" text-anchor="middle" fill="#000">3000</text><line x1="700.80" y1="2029.90" x2="700.80" y2="2034.90" stroke="#000" stroke-width="1.80"/><line x1="753.20" y1="2029.90" x2="753.20" y2="2039.90" stroke="#000" stroke-width="1.80"/><text x="753.20" y="2064.20" font-family='"Liberation Sans", sans-serif' font-size="22.10" text-anchor="middle" fill="#000">3500</text><line x1="805.60" y1="2029.90" x2="805.60" y2="2034.90" stroke="#000" stroke-width="1.80"/><line x1="858.00" y1="2029.90" x2="858.00" y2="2039.90" stroke="#000" stroke-width="1.80"/><text x="858.00" y="2064.20" font-family='"Liberation Sans", sans-serif' font-size="22.10" text-anchor="middle" fill="#000">4000</text><text transform="matrix(0.29571 0.00000 0.00000 0.29552 363.400 2111.209)" font-family='"Liberation Serif", serif' font-size="100" fill="#000">Wavenumber (cm<tspan font-size="64" dy="-39">-1</tspan><tspan dy="39">)</tspan></text><text transform="matrix(0.00000 -0.29512 0.30385 0.00000 38.750 1836.090)" font-family='"Liberation Serif", serif' font-size="100" fill="#000">Transmittance (%)</text><text transform="matrix(0.00000 0.17606 -0.18358 0.00000 175.367 1895.568)" font-family='"Liberation Serif", serif' font-size="100" fill="#000">Si–C</text><text transform="matrix(0.00000 0.17424 -0.18507 0.00000 262.370 1699.780)" font-family='"Liberation Serif", serif' font-size="100" fill="#000">Si–O–Si</text><text transform="matrix(0.00000 0.16923 -0.18358 0.00000 611.767 1511.123)" font-family='"Liberation Serif", serif' font-size="100" fill="#000">C–H</text><text transform="matrix(0.00000 0.16862 -0.18507 0.00000 750.670 1653.426)" font-family='"Liberation Serif", serif' font-size="100" fill="#000">O–H</text><rect x="863.40" y="1419.80" width="135.30" height="57.60" fill="#fff" stroke="#777" stroke-width="1.2"/><line x1="866.00" y1="1435.20" x2="916.60" y2="1435.20" stroke="#a25ae8" stroke-width="2.2"/><text transform="matrix(0.21956 0.00000 0.00000 0.23235 921.541 1442.535)" font-family='"Liberation Serif", serif' font-size="100" fill="#000">NS150</text><line x1="866.00" y1="1462.40" x2="916.60" y2="1462.40" stroke="#c6931d" stroke-width="2.2"/><text transform="matrix(0.21682 0.00000 0.00000 0.22500 922.666 1469.650)" font-family='"Liberation Serif", serif' font-size="100" fill="#000">TNS150</text><text transform="matrix(0.34466 0.00000 0.00000 0.34444 2.621 1446.767)" font-family='"Liberation Serif", serif' font-size="100" fill="#000">(c)</text></g>
</svg></body></html>
